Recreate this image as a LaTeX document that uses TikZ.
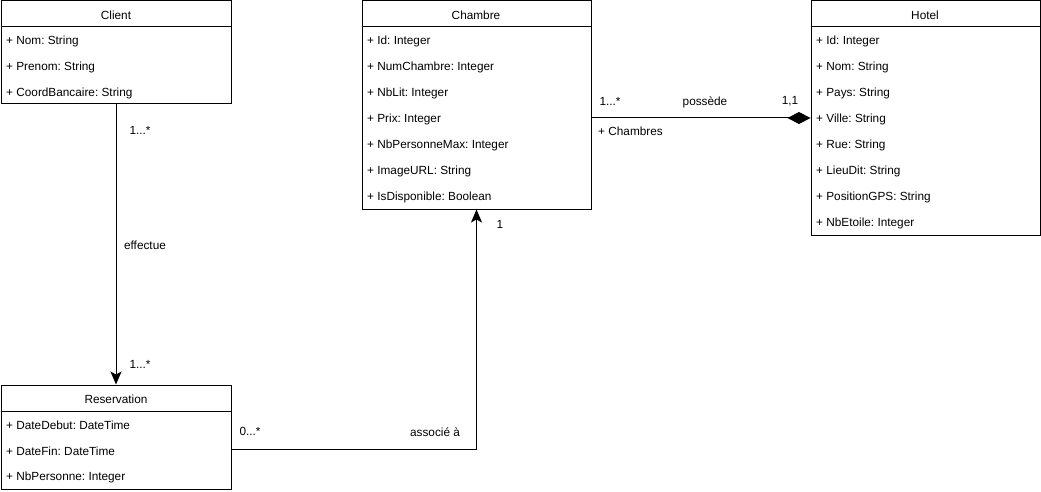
\documentclass[tikz,border=0pt]{standalone}
\usepackage{fontspec}
\setmainfont{Liberation Sans}
\usetikzlibrary{arrows.meta}
\frenchspacing

\tikzset{
  classbox/.style={draw, line width=1pt, anchor=north west, inner sep=0pt},
  title/.style={font=\fontsize{11.8}{14}\selectfont},
  attr/.style={anchor=west, inner sep=0pt, font=\fontsize{11.8}{14}\selectfont},
  mult/.style={inner sep=0pt, font=\fontsize{11.8}{14}\selectfont},
  assoc/.style={line width=1pt, -{Stealth[length=13pt,width=11pt,inset=3pt]}},
  compo/.style={line width=1pt, -{Diamond[length=23pt,width=12pt]}}
}

\begin{document}
\begin{tikzpicture}[x=1pt,y=-1pt]
        \useasboundingbox (0,0) rectangle (1041,492);

        % Client
        \node[classbox, minimum width=230pt, minimum height=103pt] (client) at (0.5,0.5) {};
        \node[title] (client-title) at (116,15) {Client};
        \draw[line width=1pt] (0.5,27) -- (230.5,27);
        \node[attr] (client-nom) at (6,41) {+ Nom: String};
        \node[attr] (client-prenom) at (6,67) {+ Prenom: String};
        \node[attr] (client-coord) at (6,93) {+ CoordBancaire: String};

        % Chambre
        \node[classbox, minimum width=229pt, minimum height=208pt] (chambre) at (361.5,0.5) {};
        \node[title] (chambre-title) at (476,15) {Chambre};
        \draw[line width=1pt] (361.5,27) -- (590.5,27);
        \node[attr] (chambre-id) at (367,41) {+ Id: Integer};
        \node[attr] (chambre-num) at (367,67) {+ NumChambre: Integer};
        \node[attr] (chambre-lit) at (367,93) {+ NbLit: Integer};
        \node[attr] (chambre-prix) at (367,119) {+ Prix: Integer};
        \node[attr] (chambre-max) at (367,145) {+ NbPersonneMax: Integer};
        \node[attr] (chambre-img) at (367,171) {+ ImageURL: String};
        \node[attr] (chambre-dispo) at (367,197) {+ IsDisponible: Boolean};

        % Hotel
        \node[classbox, minimum width=229pt, minimum height=234pt] (hotel) at (810.5,0.5) {};
        \node[title] (hotel-title) at (925,15) {Hotel};
        \draw[line width=1pt] (810.5,27) -- (1039.5,27);
        \node[attr] (hotel-id) at (816,41) {+ Id: Integer};
        \node[attr] (hotel-nom) at (816,67) {+ Nom: String};
        \node[attr] (hotel-pays) at (816,93) {+ Pays: String};
        \node[attr] (hotel-ville) at (816,119) {+ Ville: String};
        \node[attr] (hotel-rue) at (816,145) {+ Rue: String};
        \node[attr] (hotel-lieu) at (816,171) {+ LieuDit: String};
        \node[attr] (hotel-gps) at (816,197) {+ PositionGPS: String};
        \node[attr] (hotel-etoile) at (816,223) {+ NbEtoile: Integer};

        % Reservation
        \node[classbox, minimum width=230pt, minimum height=104pt] (reservation) at (0.5,384.5) {};
        \node[title] (reservation-title) at (116,399) {Reservation};
        \draw[line width=1pt] (0.5,411) -- (230.5,411);
        \node[attr] (reservation-debut) at (6,425) {+ DateDebut: DateTime};
        \node[attr] (reservation-fin) at (6,451) {+ DateFin: DateTime};
        \node[attr] (reservation-nb) at (6,477) {+ NbPersonne: Integer};

        % effectue
        \draw[assoc] (client.south) -- (reservation.north);
        \node[mult] (effectue-src) at (140,130) {1...*};
        \node[mult] (effectue) at (145,245) {effectue};
        \node[mult] (effectue-dst) at (140,364) {1...*};

        % possede
        \draw[compo] (chambre.east |- hotel.west) -- (hotel.west);
        \node[mult] (possede-src) at (610,101) {1...*};
        \node[mult] (possede) at (705,102) {possède};
        \node[mult] (possede-dst) at (790,101) {1,1};
        \node[attr] (possede-role) at (598,131) {+ Chambres};

        % associe a
        \coordinate (resa-out) at (230.5,449);
        \draw[assoc] (resa-out) -| (chambre.south);
        \node[mult] (associe-src) at (250,431) {0...*};
        \node[mult] (associe) at (435,432) {associé à};
        \node[mult] (associe-dst) at (500,224) {1};
    \end{tikzpicture}
\end{document}
